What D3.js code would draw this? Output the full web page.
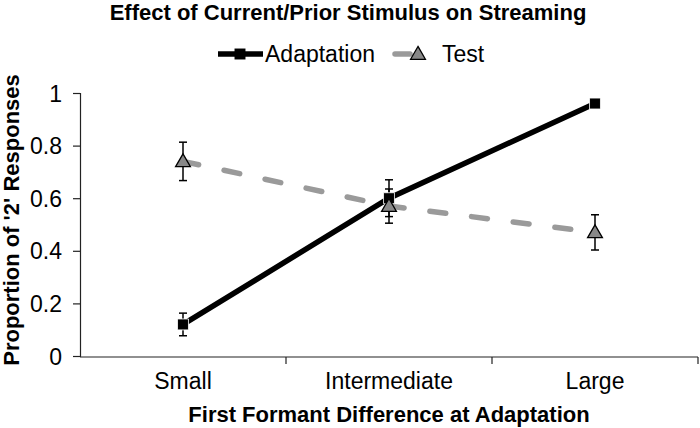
<!DOCTYPE html>
<html>
<head>
<meta charset="utf-8">
<script src="https://cdn.jsdelivr.net/npm/d3@7"></script>
<style>
    body { margin: 0; background: #fff; }
    text { font-family: "Liberation Sans", Arial, sans-serif; fill: #000; }
    .axis path, .axis line { stroke: #222; stroke-width: 1.2; }
    .axis text { font-size: 23px; }
</style>
</head>
<body>
<div id="chart"></div>
<script>
const categories = ["Small", "Intermediate", "Large"];
const adaptation = [0.12, 0.60, 0.96];
const adaptationErr = [0.043, 0.07, 0.01];
const test = [0.74, 0.57, 0.47];
const testErr = [0.073, 0.065, 0.067];
const yTicks = [0, 0.2, 0.4, 0.6, 0.8, 1];

const ctx = {
    W: 700,
    H: 428,
    left: 80,
    right: 698,
    top: 93,
    bottom: 356,
};

const svg = d3.select("#chart").append("svg")
    .attr("width", ctx.W)
    .attr("height", ctx.H);

const x = d3.scaleBand().domain(categories).range([ctx.left, ctx.right]).padding(0);
const y = d3.scaleLinear().domain([0, 1]).range([ctx.bottom, ctx.top]);
const cx = d => x(d) + x.bandwidth() / 2;

// axes
svg.append("g")
    .attr("class", "axis")
    .attr("transform", `translate(${ctx.left},0)`)
    .call(d3.axisLeft(y).tickValues(yTicks).tickFormat(d3.format("")).tickSize(7).tickPadding(11))
    .call(g => g.selectAll("text").attr("dy", "0.35em"));

const xAxis = svg.append("g")
    .attr("class", "axis")
    .attr("transform", `translate(0,${ctx.bottom + 1})`)
    .call(d3.axisBottom(x).tickSize(0).tickPadding(16));
xAxis.select(".domain").attr("d", `M${ctx.left},0H${ctx.right}`);
// tick marks between categories (excel style)
xAxis.selectAll(".sep")
    .data(categories)
    .enter()
    .append("line")
    .attr("x1", d => x(d) + x.bandwidth())
    .attr("x2", d => x(d) + x.bandwidth())
    .attr("y1", 0)
    .attr("y2", 7)
    .style("stroke", "#222")
    .style("stroke-width", 1.2);

const line = d3.line()
    .x((d, i) => cx(categories[i]))
    .y(d => y(d));

// test series (grey dashed)
svg.append("path")
    .datum(test)
    .attr("d", line)
    .style("fill", "none")
    .style("stroke", "#9a9a9a")
    .style("stroke-width", 5.5)
    .style("stroke-linecap", "round")
    .style("stroke-dasharray", "16,26");

// adaptation series (black solid)
svg.append("path")
    .datum(adaptation)
    .attr("d", line)
    .style("fill", "none")
    .style("stroke", "#000")
    .style("stroke-width", 5.5);

function errorBars(vals, errs) {
    const g = svg.append("g").style("stroke", "#000").style("stroke-width", 1.5);
    vals.forEach((v, i) => {
        const px = cx(categories[i]);
        g.append("line").attr("x1", px).attr("x2", px).attr("y1", y(v - errs[i])).attr("y2", y(v + errs[i]));
        g.append("line").attr("x1", px - 4).attr("x2", px + 4).attr("y1", y(v - errs[i])).attr("y2", y(v - errs[i]));
        g.append("line").attr("x1", px - 4).attr("x2", px + 4).attr("y1", y(v + errs[i])).attr("y2", y(v + errs[i]));
    });
}
errorBars(adaptation, adaptationErr);
errorBars(test, testErr);

const square = d3.symbol().type(d3.symbolSquare).size(120);
const triangle = d3.symbol().type(d3.symbolTriangle).size(95);

svg.append("g")
    .selectAll("path")
    .data(adaptation)
    .enter()
    .append("path")
    .attr("d", square)
    .attr("transform", (d, i) => `translate(${cx(categories[i])},${y(d)})`)
    .style("fill", "#000")
    .style("stroke", "#fff")
    .style("stroke-width", 0.8);

svg.append("g")
    .selectAll("path")
    .data(test)
    .enter()
    .append("path")
    .attr("d", triangle)
    .attr("transform", (d, i) => `translate(${cx(categories[i])},${y(d) + 1})`)
    .style("fill", "#888")
    .style("stroke", "#000")
    .style("stroke-width", 1.3);

// title
svg.append("text")
    .attr("x", 348)
    .attr("y", 20)
    .attr("text-anchor", "middle")
    .style("font-size", "22px")
    .style("font-weight", "bold")
    .text("Effect of Current/Prior Stimulus on Streaming");

// legend
const leg = svg.append("g").attr("transform", "translate(0,54)");
leg.append("line").attr("x1", 218).attr("x2", 263).attr("y1", 0).attr("y2", 0)
    .style("stroke", "#000").style("stroke-width", 5.5);
leg.append("path").attr("d", square).attr("transform", "translate(240,0)").style("fill", "#000");
leg.append("text").attr("x", 265).attr("y", 8).style("font-size", "23px").text("Adaptation");
leg.append("line").attr("x1", 395).attr("x2", 410).attr("y1", 0).attr("y2", 0)
    .style("stroke", "#9a9a9a").style("stroke-width", 5.5).style("stroke-linecap", "round");
leg.append("path").attr("d", triangle).attr("transform", "translate(418,1)")
    .style("fill", "#888").style("stroke", "#000").style("stroke-width", 1.3);
leg.append("text").attr("x", 442).attr("y", 8).style("font-size", "23px").text("Test");

// axis titles
svg.append("text")
    .attr("x", 389)
    .attr("y", 422)
    .attr("text-anchor", "middle")
    .style("font-size", "22px")
    .style("font-weight", "bold")
    .text("First Formant Difference at Adaptation");

svg.append("text")
    .attr("transform", "translate(19,220) rotate(-90)")
    .attr("text-anchor", "middle")
    .style("font-size", "22px")
    .style("font-weight", "bold")
    .text("Proportion of '2' Responses");
</script>
</body>
</html>
